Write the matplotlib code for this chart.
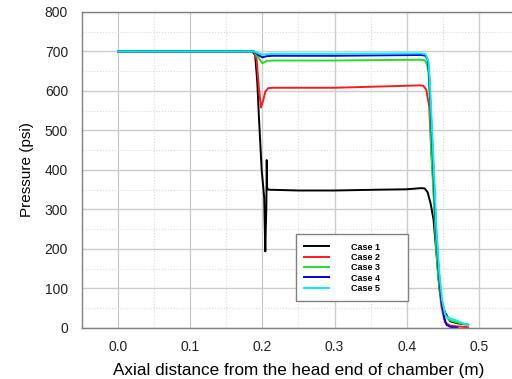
import numpy as np
import matplotlib
matplotlib.use("Agg")
import matplotlib.pyplot as plt
from matplotlib.ticker import MultipleLocator

plt.rcParams['font.family'] = ['Liberation Sans', 'DejaVu Sans']

# pressure profiles (x in m, p in psi)
case1_x = [0.0, 0.186, 0.19, 0.193, 0.195, 0.197, 0.199, 0.2025, 0.204, 0.2048, 0.2055, 0.206, 0.2066,
           0.208, 0.25, 0.3, 0.36, 0.4, 0.42, 0.425, 0.429, 0.433, 0.437, 0.441, 0.446, 0.45, 0.453,
           0.46, 0.47, 0.485]
case1_y = [700, 700, 690, 620, 540, 470, 400, 330, 194, 260, 310, 425, 355,
           350, 348, 348, 350, 351, 354, 353, 343, 315, 275, 191, 90, 55, 39,
           17, 12, 8]

case2_x = [0.0, 0.188, 0.192, 0.195, 0.198, 0.201, 0.204, 0.208, 0.215, 0.3, 0.36, 0.418, 0.423,
           0.427, 0.431, 0.434, 0.437, 0.44, 0.444, 0.448, 0.453, 0.46, 0.47, 0.485]
case2_y = [700, 700, 680, 610, 558, 575, 598, 607, 608, 608, 611, 614, 613,
           603, 561, 444, 358, 232, 123, 54, 14, 6, 4, 2]

case3_x = [0.0, 0.188, 0.194, 0.2, 0.206, 0.215, 0.3, 0.42, 0.425, 0.428, 0.43, 0.432, 0.434,
           0.437, 0.441, 0.444, 0.448, 0.453, 0.46, 0.47, 0.485]
case3_y = [700, 700, 685, 670, 676, 677, 677, 679, 677, 668, 648, 570, 444,
           343, 191, 123, 72, 32, 19, 14, 8]

case4_x = [0.0, 0.188, 0.195, 0.2, 0.206, 0.215, 0.3, 0.42, 0.426, 0.429, 0.431, 0.434, 0.437,
           0.44, 0.444, 0.448, 0.452, 0.455, 0.46, 0.47]
case4_y = [700, 700, 690, 685, 688, 689, 689, 691, 689, 678, 640, 520, 400,
           270, 150, 70, 25, 8, 3, 1]

case5_x = [0.0, 0.188, 0.195, 0.2, 0.206, 0.215, 0.3, 0.42, 0.426, 0.43, 0.432, 0.435, 0.438,
           0.441, 0.445, 0.449, 0.453, 0.456, 0.47, 0.485]
case5_y = [700, 700, 695, 692, 693, 694, 694, 695, 693, 675, 620, 500, 380,
           250, 140, 70, 35, 27, 18, 6]

series = [
    ("Case 1", case1_x, case1_y, "#000000"),
    ("Case 2", case2_x, case2_y, "#ff1a1a"),
    ("Case 3", case3_x, case3_y, "#22e022"),
    ("Case 4", case4_x, case4_y, "#0000ee"),
    ("Case 5", case5_x, case5_y, "#00f0f0"),
]

fig = plt.figure(figsize=(5.12, 3.79), dpi=100)
ax = fig.add_axes([0.160, 0.1346, 0.846, 0.834])

for name, xs, ys, col in series:
    ax.plot(xs, ys, color=col, lw=1.4, label=name)

ax.set_xlim(-0.05, 0.55)
ax.set_ylim(0, 800)
ax.xaxis.set_major_locator(MultipleLocator(0.1))
ax.xaxis.set_minor_locator(MultipleLocator(0.05))
ax.yaxis.set_major_locator(MultipleLocator(100))
ax.yaxis.set_minor_locator(MultipleLocator(50))
ax.set_xticks([0.0, 0.1, 0.2, 0.3, 0.4, 0.5])
ax.set_xticklabels(["0.0", "0.1", "0.2", "0.3", "0.4", "0.5"])

ax.grid(which='major', color='#cccccc', lw=1.0, ls='-')
ax.grid(which='minor', color='#dddddd', lw=0.8, ls=':')
ax.set_axisbelow(True)
ax.tick_params(which='both', length=0, labelsize=10, colors='#222222')
ax.tick_params(axis='y', pad=10)
ax.tick_params(axis='x', pad=9)

for s in ax.spines.values():
    s.set_color('#808080')
    s.set_linewidth(1.0)

ax.set_xlabel("Axial distance from the head end of chamber (m)", fontsize=12.3, labelpad=6)
ax.set_ylabel("Pressure (psi)", fontsize=11, labelpad=8)

leg = ax.legend(loc='lower left', bbox_to_anchor=(0.494, 0.085, 0.259, 0.2), mode='expand',
                fancybox=False, prop={'size': 6.5, 'weight': 'bold'}, handlelength=2.8,
                handletextpad=2.4, labelspacing=0.15, borderpad=0.9, borderaxespad=0,
                framealpha=1)
leg.get_frame().set_edgecolor('#808080')
leg.get_frame().set_linewidth(1.0)

fig.savefig("out.png", dpi=100)
